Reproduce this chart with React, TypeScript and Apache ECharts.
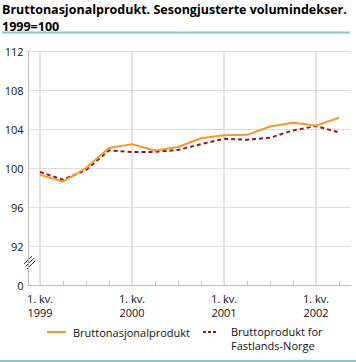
import React, { useEffect, useRef } from "react";
import * as echarts from "echarts";

const quarters = [
  "1999K1", "1999K2", "1999K3", "1999K4",
  "2000K1", "2000K2", "2000K3", "2000K4",
  "2001K1", "2001K2", "2001K3", "2001K4",
  "2002K1", "2002K2",
];
const bnp = [99.3, 98.6, 100.0, 102.05, 102.45, 101.8, 102.15, 103.05, 103.35, 103.4, 104.25, 104.65, 104.35, 105.15];
const fastland = [99.6, 98.8, 99.8, 101.8, 101.65, 101.65, 101.85, 102.45, 103.0, 102.9, 103.1, 103.85, 104.3, 103.65];
const yTicks = [88, 92, 96, 100, 104, 108, 112];
const seriesNames = ["Bruttonasjonalprodukt", "Bruttoprodukt for Fastlands-Norge"];
const titleLines = ["Bruttonasjonalprodukt. Sesongjusterte volumindekser.", "1999=100"];

const FONT = "'Open Sans', 'Noto Sans', sans-serif";
const ORANGE = "#f7982e";
const RED = "#9e1414";
const TEAL = "#86c8c8";

export default function App() {
  const ref = useRef<HTMLDivElement>(null);
  useEffect(() => {
    if (!ref.current) return;
    const chart = echarts.init(ref.current, undefined, { renderer: "svg" });
    chart.setOption({
      animation: false,
      textStyle: { fontFamily: FONT },
      graphic: [
        {
          type: "text",
          x: 2,
          y: 9.5,
          style: { text: titleLines[0], fontFamily: FONT, fontSize: 12.5, fontWeight: "bold", fill: "#000", verticalAlign: "middle" },
        },
        {
          type: "text",
          x: 2,
          y: 26,
          style: { text: titleLines[1], fontFamily: FONT, fontSize: 12.5, fontWeight: "bold", fill: "#000", verticalAlign: "middle" },
        },
        { type: "rect", shape: { x: 2, y: 31.5, width: 348, height: 2 }, style: { fill: TEAL } },
        { type: "rect", shape: { x: 0, y: 360, width: 356, height: 2 }, style: { fill: TEAL } },
        // axis break marks
        { type: "line", shape: { x1: 24, y1: 264, x2: 32, y2: 256 }, style: { stroke: "#333", lineWidth: 1 } },
        { type: "line", shape: { x1: 25.5, y1: 266.5, x2: 33.5, y2: 258.5 }, style: { stroke: "#333", lineWidth: 1 } },
        { type: "line", shape: { x1: 27, y1: 269, x2: 35, y2: 261 }, style: { stroke: "#333", lineWidth: 1 } },
        // legend
        { type: "line", shape: { x1: 47, y1: 332, x2: 66, y2: 332 }, style: { stroke: ORANGE, lineWidth: 2 } },
        {
          type: "text",
          x: 73,
          y: 332,
          style: { text: seriesNames[0], fontFamily: FONT, fontSize: 11, fill: "#111", verticalAlign: "middle" },
        },
        { type: "line", shape: { x1: 203, y1: 332, x2: 216, y2: 332 }, style: { stroke: RED, lineWidth: 2, lineDash: [3, 2] } },
        {
          type: "text",
          x: 231,
          y: 331.5,
          style: { text: "Bruttoprodukt for", fontFamily: FONT, fontSize: 11, fill: "#111", verticalAlign: "middle" },
        },
        {
          type: "text",
          x: 231,
          y: 345,
          style: { text: "Fastlands-Norge", fontFamily: FONT, fontSize: 11, fill: "#111", verticalAlign: "middle" },
        },
      ],
      grid: { left: 28.5, right: 5.5, top: 51, bottom: 77, containLabel: false },
      xAxis: {
        type: "category",
        data: quarters,
        boundaryGap: true,
        axisLine: { show: true, lineStyle: { color: "#bbbbbb", width: 1 } },
        axisTick: {
          show: true,
          inside: true,
          alignWithLabel: true,
          interval: 0,
          length: 4,
          lineStyle: { color: "#c8c8c8" },
        },
        axisLabel: {
          interval: (i: number) => i % 4 === 0,
          formatter: (v: string) => "1. kv.\n" + v.slice(0, 4),
          color: "#111",
          fontSize: 11,
          lineHeight: 14,
          margin: 6,
          fontFamily: FONT,
        },
        splitLine: { show: false },
      },
      yAxis: {
        type: "value",
        min: yTicks[0],
        max: yTicks[yTicks.length - 1],
        interval: 4,
        axisLine: { show: true, lineStyle: { color: "#bbbbbb" } },
        axisTick: { show: false },
        axisLabel: {
          formatter: (v: number) => (v === yTicks[0] ? "0" : String(v)),
          color: "#111",
          fontSize: 11,
          margin: 5,
          fontFamily: FONT,
        },
        splitLine: { show: true, lineStyle: { color: "#dcdcdc", width: 1 } },
      },
      series: [
        {
          name: seriesNames[0],
          type: "line",
          data: bnp,
          symbol: "none",
          lineStyle: { color: ORANGE, width: 2 },
          itemStyle: { color: ORANGE },
          z: 3,
          markLine: {
            silent: true,
            symbol: "none",
            z: 1,
            label: { show: false },
            lineStyle: { color: "#dcdcdc", width: 1.5, type: "solid" },
            data: quarters.map((q, i) => i).filter((i) => i % 4 === 0).map((i) => ({ xAxis: i })),
          },
        },
        {
          name: seriesNames[1],
          type: "line",
          data: fastland,
          symbol: "none",
          lineStyle: { color: RED, width: 2, type: [4, 3] },
          itemStyle: { color: RED },
          z: 2,
        },
      ],
    });
    return () => chart.dispose();
  }, []);
  return <div ref={ref} style={{ position: "absolute", left: 0, top: 0, width: 356, height: 362 }} />;
}
